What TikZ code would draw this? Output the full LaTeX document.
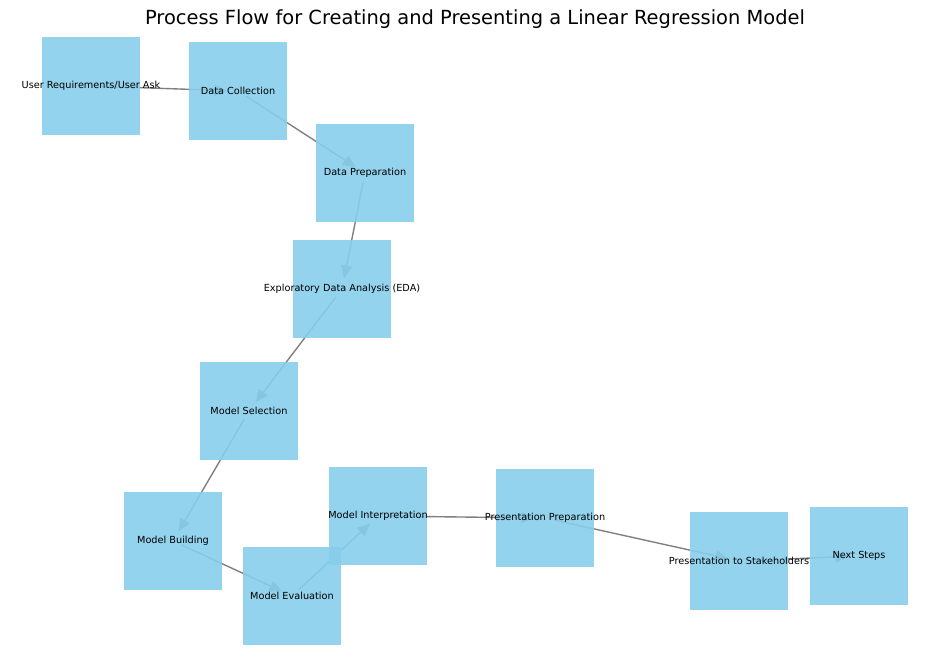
\documentclass[tikz,border=0pt]{standalone}
\usepackage{fontspec}
\setmainfont{DejaVu Sans}
\usetikzlibrary{arrows.meta,backgrounds}
\definecolor{skyblue}{HTML}{87CEEB}
\begin{document}
\begin{tikzpicture}[x=0.72pt,y=-0.72pt,font=\fontsize{7}{8.4}\selectfont]
      \tikzstyle{box node}=[rectangle,fill=skyblue,fill opacity=0.9,text opacity=1,minimum size=70.5pt,inner sep=0]
      \tikzstyle{flow edge}=[draw=gray,line width=1pt,-{Triangle[length=9pt,width=8pt]},shorten <=7pt,shorten >=8pt]
      \useasboundingbox (0,0) rectangle (950,659);

      \node(title) at (475,19.5) {\fontsize{14}{16}\selectfont Process Flow for Creating and Presenting a Linear Regression Model};

      \node(0)[box node] at (91,86) {\makebox[0pt]{User Requirements/User Ask}};
      \node(1)[box node] at (238,91) {\makebox[0pt]{Data Collection}};
      \node(2)[box node] at (365,173) {\makebox[0pt]{Data Preparation}};
      \node(3)[box node] at (342,289) {\makebox[0pt]{Exploratory Data Analysis (EDA)}};
      \node(4)[box node] at (249,411) {\makebox[0pt]{Model Selection}};
      \node(5)[box node] at (173,541) {\makebox[0pt]{Model Building}};
      \node(6)[box node] at (292,596) {\makebox[0pt]{Model Evaluation}};
      \node(7)[box node] at (378,516) {\makebox[0pt]{Model Interpretation}};
      \node(8)[box node] at (545,518) {\makebox[0pt]{Presentation Preparation}};
      \node(9)[box node] at (739,561) {\makebox[0pt]{Presentation to Stakeholders}};
      \node(10)[box node] at (859,556) {\makebox[0pt]{Next Steps}};

      \begin{scope}[on background layer]
          \foreach \a/\b in {0/1,1/2,2/3,3/4,4/5,5/6,6/7,7/8,8/9,9/10}
              \draw[flow edge] (\a.center) -- (\b.center);
      \end{scope}
\end{tikzpicture}
\end{document}
